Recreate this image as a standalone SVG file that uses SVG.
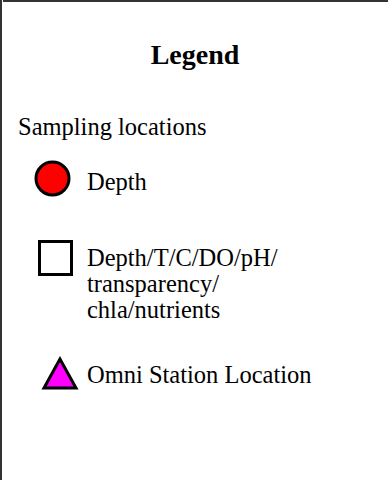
<svg xmlns="http://www.w3.org/2000/svg" width="388" height="480" viewBox="0 0 388 480">
  <style>
    .title { font-family: "Liberation Serif", "Times New Roman", serif; font-size: 28px; font-weight: bold; fill: #000; }
    .label { font-family: "Liberation Serif", "Times New Roman", serif; font-size: 24.5px; fill: #000; }
    .sym { stroke: #000; stroke-width: 3; }
    .frame { stroke: #333; stroke-width: 2; fill: none; }
  </style>
  <rect x="0" y="0" width="388" height="480" fill="#fff"/>
  <!-- frame: top and left edges only -->
  <line class="frame" x1="3" y1="1" x2="388" y2="1"/>
  <line class="frame" x1="1" y1="0" x2="1" y2="480"/>

  <text class="title" x="195" y="64" text-anchor="middle">Legend</text>
  <text class="label" x="18" y="135">Sampling locations</text>

  <g id="depth">
    <circle class="sym" cx="52.5" cy="178.5" r="16.5" fill="#ff0000"/>
    <text class="label" x="87" y="190">Depth</text>
  </g>

  <g id="profile">
    <rect class="sym" x="39.5" y="241.5" width="32" height="33" fill="#fff"/>
    <text class="label" x="87" y="266">Depth/T/C/DO/pH/</text>
    <text class="label" x="87" y="292">transparency/</text>
    <text class="label" x="87" y="318">chla/nutrients</text>
  </g>

  <g id="omni">
    <polygon class="sym" points="60,359 44,388 76,388" fill="#ff00ff" stroke-linejoin="miter"/>
    <text class="label" x="87" y="383">Omni Station Location</text>
  </g>
</svg>
